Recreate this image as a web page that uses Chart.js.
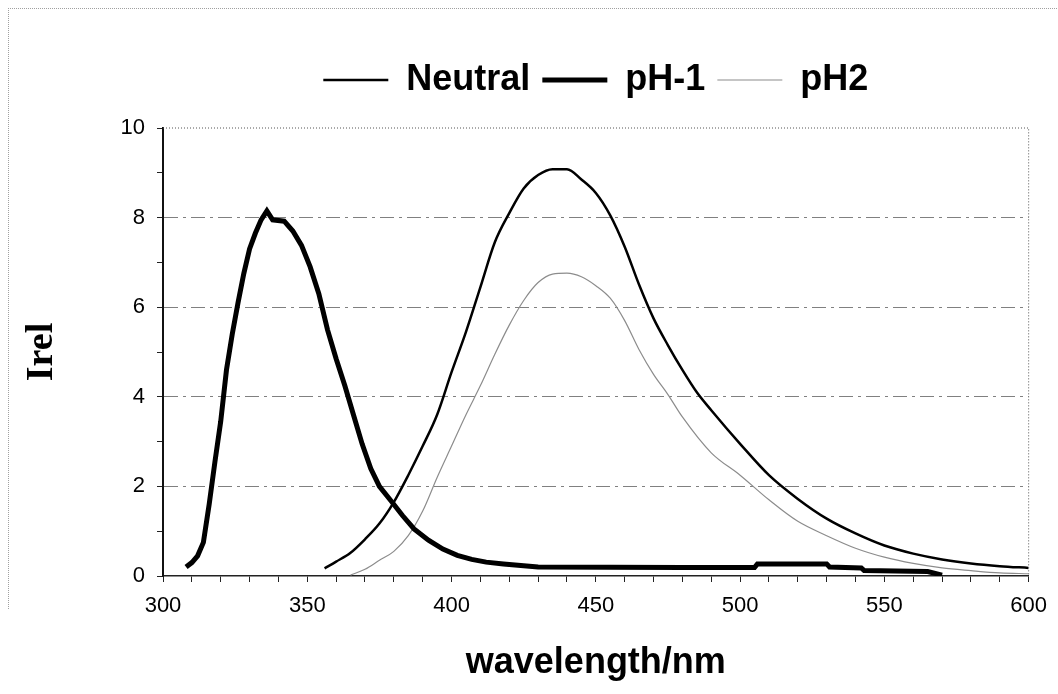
<!DOCTYPE html>
<html>
<head>
<meta charset="utf-8">
<title>Irel vs wavelength</title>
<script src="https://cdn.jsdelivr.net/npm/chart.js@4.4.1/dist/chart.umd.min.js"></script>
<style>
    html, body { margin: 0; padding: 0; background: #fff; }
    #frame {
        position: absolute; left: 8px; top: 8px; width: 1050px; height: 600px;
        border-left: 1px dotted #a0a0a0; border-top: 1px dotted #a0a0a0;
    }
    #spectrum { position: absolute; left: 0; top: 0; }
</style>
</head>
<body>
<div id="frame"></div>
<canvas id="spectrum" width="1058" height="694"></canvas>
<script>
const NARROW = "'Liberation Sans Narrow', 'Arial Narrow', 'Liberation Sans', Arial, sans-serif";
const SERIF = "'Liberation Serif', 'Times New Roman', serif";

// Neutral
const neutralWavelength = [356, 360, 365, 370, 375, 380, 385, 390, 395, 400, 405, 410, 415, 420, 425, 430, 435, 440,
    445, 450, 455, 460, 465, 470, 475, 480, 485, 490, 500, 510, 520, 530, 540, 550, 560, 570, 580, 590, 600];
const neutralIntensity = [0.17, 0.32, 0.52, 0.82, 1.17, 1.65, 2.25, 2.9, 3.6, 4.55, 5.45, 6.45, 7.45, 8.1, 8.65, 8.95, 9.08, 9.08,
    8.85, 8.55, 8.05, 7.35, 6.5, 5.75, 5.15, 4.6, 4.1, 3.7, 2.95, 2.25, 1.72, 1.28, 0.95, 0.68, 0.5, 0.37, 0.28, 0.22, 0.18];

// pH-1
const acidWavelength = [308, 310, 312, 314, 316, 318, 320, 322, 324, 326, 328, 330, 332, 334, 336, 338, 342, 345, 348,
    351, 354, 357, 360, 363, 366, 369, 372, 375, 379, 383, 387, 392, 397, 402, 407, 412, 418, 425, 430, 480, 505,
    506, 530, 531, 542, 543, 565, 570];
const acidIntensity = [0.2, 0.3, 0.45, 0.75, 1.6, 2.55, 3.45, 4.6, 5.4, 6.1, 6.75, 7.3, 7.65, 7.95, 8.15, 7.95, 7.92, 7.7, 7.38,
    6.9, 6.3, 5.5, 4.85, 4.25, 3.6, 2.95, 2.4, 2.0, 1.68, 1.35, 1.05, 0.8, 0.6, 0.46, 0.37, 0.31, 0.27, 0.23, 0.2, 0.19, 0.19,
    0.27, 0.27, 0.2, 0.18, 0.12, 0.1, 0.02];

// pH2
const baseWavelength = [365, 370, 375, 380, 385, 390, 395, 400, 405, 410, 415, 420, 425, 430, 435, 440, 445, 450, 455,
    460, 465, 470, 475, 480, 490, 500, 510, 520, 530, 540, 550, 560, 570, 580, 590, 600];
const baseIntensity = [0.02, 0.15, 0.35, 0.55, 0.9, 1.45, 2.2, 2.9, 3.6, 4.25, 4.95, 5.6, 6.15, 6.55, 6.74, 6.76, 6.68, 6.48, 6.2,
    5.7, 5.05, 4.5, 4.05, 3.55, 2.75, 2.25, 1.7, 1.22, 0.9, 0.62, 0.42, 0.28, 0.18, 0.12, 0.07, 0.05];

const xMin = 300, xMax = 600, yMin = 0, yMax = 10;

function toPoints(wavelengths, values) {
    return wavelengths.map((w, i) => ({ x: w, y: values[i] }));
}

// legend sits high, chart area starts right under it
const legendHeight = {
    id: 'legendHeight',
    beforeInit(chart) {
        const fit = chart.legend.fit;
        chart.legend.fit = function () {
            fit.call(this);
            this.height = 78;
        };
    }
};

// dotted top/right frame of the plot
const plotFrame = {
    id: 'plotFrame',
    afterDraw(chart) {
        const { ctx, chartArea } = chart;
        ctx.save();
        ctx.strokeStyle = '#555';
        ctx.lineWidth = 1;
        ctx.setLineDash([1, 2]);
        ctx.beginPath();
        ctx.moveTo(chartArea.left, chartArea.top);
        ctx.lineTo(chartArea.right, chartArea.top);
        ctx.lineTo(chartArea.right, chartArea.bottom);
        ctx.stroke();
        ctx.restore();
    }
};

new Chart(document.getElementById('spectrum'), {
    type: 'line',
    data: {
        datasets: [{
            label: 'Neutral',
            data: toPoints(neutralWavelength, neutralIntensity),
            borderColor: '#000',
            borderWidth: 2.5,
            cubicInterpolationMode: 'monotone'
        }, {
            label: 'pH-1',
            data: toPoints(acidWavelength, acidIntensity),
            borderColor: '#000',
            borderWidth: 5
        }, {
            label: 'pH2',
            data: toPoints(baseWavelength, baseIntensity),
            borderColor: '#8c8c8c',
            borderWidth: 1.2,
            cubicInterpolationMode: 'monotone'
        }]
    },
    options: {
        responsive: false,
        animation: false,
        events: [],
        elements: { point: { radius: 0 }, line: { tension: 0 } },
        layout: { padding: { top: 50, right: 27, bottom: 0, left: 0 } },
        plugins: {
            tooltip: { enabled: false },
            legend: {
                position: 'top',
                fullSize: false,
                labels: {
                    usePointStyle: true,
                    pointStyle: 'line',
                    pointStyleWidth: 65,
                    padding: 12,
                    color: '#000',
                    font: { family: NARROW, size: 36, weight: 'bold' }
                }
            }
        },
        scales: {
            x: {
                type: 'linear',
                min: xMin,
                max: xMax,
                ticks: {
                    stepSize: 10,
                    autoSkip: false,
                    maxRotation: 0,
                    padding: 11,
                    color: '#000',
                    font: { family: NARROW, size: 22 },
                    callback: v => (v % 50 === 0 ? v : '')
                },
                grid: { drawOnChartArea: false, tickLength: 6, tickColor: '#222' },
                border: { color: '#222', width: 1.5 },
                title: {
                    display: true,
                    text: 'wavelength/nm',
                    color: '#000',
                    font: { family: NARROW, size: 36, weight: 'bold' },
                    padding: { top: 0, bottom: 9 }
                },
                afterFit(scale) { scale.height = 118; }
            },
            y: {
                min: yMin,
                max: yMax,
                ticks: {
                    stepSize: 1,
                    padding: 12,
                    color: '#000',
                    font: { family: NARROW, size: 22 },
                    callback: v => (v % 2 === 0 ? v : '')
                },
                grid: {
                    color: ctx => (ctx.tick && ctx.tick.value % 2 === 0 && ctx.tick.value > yMin && ctx.tick.value < yMax)
                        ? '#808080' : 'rgba(0,0,0,0)',
                    tickColor: '#222',
                    tickLength: 6
                },
                border: { color: '#111', width: 2, dash: [14, 5, 3, 5] },
                title: {
                    display: true,
                    text: 'Irel',
                    color: '#000',
                    font: { family: SERIF, size: 38, weight: 'bold' },
                    padding: { top: 19, bottom: 0 }
                },
                afterFit(scale) { scale.width = 163; }
            }
        }
    },
    plugins: [legendHeight, plotFrame]
});
</script>
</body>
</html>
